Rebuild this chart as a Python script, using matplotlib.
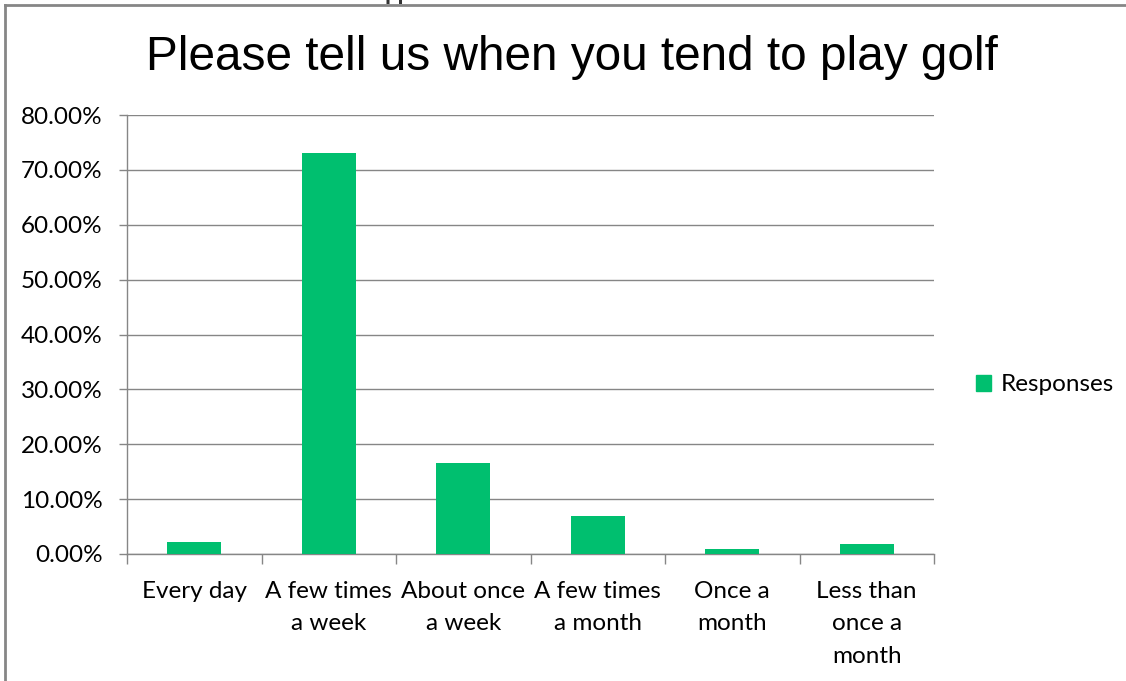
import matplotlib
matplotlib.use("Agg")
import matplotlib.pyplot as plt
from matplotlib.ticker import FuncFormatter, FixedLocator, NullFormatter
from matplotlib.lines import Line2D
import numpy as np

categories = ["Every day", "A few times\na week", "About once\na week",
              "A few times\na month", "Once a\nmonth", "Less than\nonce a\nmonth"]
responses = [2.2, 73.0, 16.6, 6.9, 0.9, 1.8]
series_name = "Responses"
title = "Please tell us when you tend to play golf"
y_ticks = [0, 10, 20, 30, 40, 50, 60, 70, 80]

W, H = 1126, 681
fig = plt.figure(figsize=(W / 100, H / 100), dpi=100)
fig.patch.set_facecolor("white")

grey = "#868686"
bar_color = "#00BF6F"
label_font = ["Lato", "DejaVu Sans"]
fs = 17.5

ax = fig.add_axes([127 / W, (H - 554) / H, (934 - 127) / W, (554 - 115) / H])
x = np.arange(len(categories))
ax.bar(x, responses, width=0.4, color=bar_color, zorder=3)
ax.set_xlim(-0.5, len(categories) - 0.5)
ax.set_ylim(0, 80)
ax.set_yticks(y_ticks)
ax.yaxis.set_major_formatter(FuncFormatter(lambda v, p: f"{v:.2f}%"))
ax.grid(axis="y", color=grey, linewidth=1.0, zorder=0)
ax.set_axisbelow(True)

# x ticks at category boundaries, labels at centers
ax.xaxis.set_major_locator(FixedLocator(np.arange(-0.5, len(categories), 1.0)))
ax.xaxis.set_major_formatter(NullFormatter())
ax.xaxis.set_minor_locator(FixedLocator(x))
ax.set_xticklabels(categories, minor=True)
ax.tick_params(axis="x", which="major", length=7, width=1, color=grey, direction="out")
ax.tick_params(axis="x", which="minor", length=0, pad=19.5, labelsize=fs)
ax.tick_params(axis="y", length=6, width=1, color=grey, direction="out", labelsize=fs, pad=11.5)
for lab in ax.get_xticklabels(minor=True) + ax.get_yticklabels():
    lab.set_family(label_font)
for lab in ax.get_xticklabels(minor=True):
    lab.set_linespacing(1.67)
    lab.set_verticalalignment("top")

for s in ["top", "right"]:
    ax.spines[s].set_visible(False)
for s in ["left", "bottom"]:
    ax.spines[s].set_color(grey)
    ax.spines[s].set_linewidth(1.0)

fig.text(572 / W, 1 - 58 / H, title, ha="center", va="center",
         fontsize=34.4, family=["Liberation Sans", "DejaVu Sans"])

handle = plt.Rectangle((0, 0), 1, 1, color=bar_color)
fig.legend([handle], [series_name], loc="center left", bbox_to_anchor=(964 / W, 1 - 385 / H),
           frameon=False, prop={"family": label_font, "size": fs},
           handlelength=0.6, handleheight=0.6, handletextpad=0.4, borderpad=0)

# frame of the embedded chart object
fig.add_artist(Line2D([5 / W, 1], [1 - 5 / H, 1 - 5 / H], transform=fig.transFigure,
                      color=grey, linewidth=2))
fig.add_artist(Line2D([5 / W, 5 / W], [0, 1 - 5 / H], transform=fig.transFigure,
                      color=grey, linewidth=2))
fig.text(398 / W, 1 + 1 / H, "pp", ha="center", va="baseline", fontsize=16,
         fontweight="bold", color="#333333", family=["Liberation Sans", "DejaVu Sans"])

fig.savefig("out.png", dpi=100)
